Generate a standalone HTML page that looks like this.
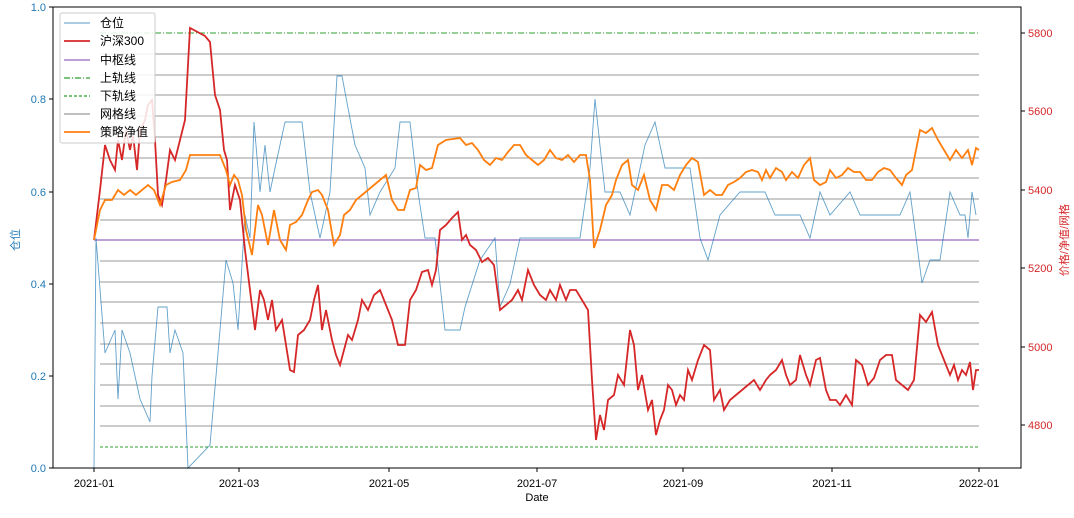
<!DOCTYPE html>
<html><head><meta charset="utf-8"><style>
html,body{margin:0;padding:0;background:#fff;}
svg text{font-family:"Liberation Sans","Noto Sans CJK SC",sans-serif;}
</style></head><body>
<svg width="1074" height="513" viewBox="0 0 1074 513" xmlns="http://www.w3.org/2000/svg">
<rect width="1074" height="513" fill="#fff"/>
<!-- grid lines -->
<g stroke="#9a9a9a" stroke-width="1">
<line x1="100" x2="979" y1="54" y2="54"/><line x1="100" x2="979" y1="75" y2="75"/><line x1="100" x2="979" y1="95" y2="95"/><line x1="100" x2="979" y1="116" y2="116"/><line x1="100" x2="979" y1="137" y2="137"/><line x1="100" x2="979" y1="158" y2="158"/><line x1="100" x2="979" y1="178" y2="178"/><line x1="100" x2="979" y1="199" y2="199"/><line x1="100" x2="979" y1="220" y2="220"/><line x1="100" x2="979" y1="261" y2="261"/><line x1="100" x2="979" y1="282" y2="282"/><line x1="100" x2="979" y1="302" y2="302"/><line x1="100" x2="979" y1="323" y2="323"/><line x1="100" x2="979" y1="344" y2="344"/><line x1="100" x2="979" y1="364" y2="364"/><line x1="100" x2="979" y1="385" y2="385"/><line x1="100" x2="979" y1="406" y2="406"/><line x1="100" x2="979" y1="426" y2="426"/>
</g>
<line x1="100" x2="979" y1="33" y2="33" stroke="#2ca02c" stroke-dasharray="6,2,1,2" stroke-width="1"/>
<line x1="100" x2="979" y1="447" y2="447" stroke="#2ca02c" stroke-dasharray="3,2" stroke-width="1"/>
<line x1="94" x2="979" y1="240" y2="240" stroke="#9467bd" stroke-width="1.3"/>
<!-- position -->
<polyline fill="none" stroke="#1f77b4" stroke-opacity="0.7" stroke-width="0.9" points="94,468 96,238 105,353 115,330 118,399 122,330 130,353 140,399 150,422 152,376 158,307 167,307 170,353 175,330 183,353 188,468 210,445 218,353 226,260 233,283 238,330 245,215 250,238 254,122 260,192 265,145 270,192 275,168 285,122 302,122 310,192 320,238 330,192 337,76 342,76 348,108 355,145 365,168 370,215 380,192 395,168 400,122 410,122 418,192 425,238 435,238 445,330 460,330 465,307 480,260 495,238 500,307 510,284 520,238 560,238 580,238 590,168 595,99 605,192 620,192 630,215 645,145 655,122 665,168 690,168 700,238 708,260 720,215 740,192 765,192 775,215 800,215 810,238 820,192 830,215 850,192 860,215 900,215 910,192 922,283 930,260 940,260 950,192 960,215 965,215 968,238 972,192 976,215"/>
<!-- HS300 -->
<polyline fill="none" stroke="#d62728" stroke-width="1.8" points="94,240 100,190 105,145 110,160 115,170 118,140 122,160 126,130 130,150 133,135 137,170 140,130 145,120 148,105 152,100 155,140 158,195 162,205 166,180 170,150 175,160 180,140 185,120 190,28 205,36 210,42 215,95 220,110 224,150 227,160 230,210 235,185 240,200 245,250 250,290 255,330 260,290 264,300 268,320 272,300 276,330 282,320 286,345 290,370 294,372 298,335 304,330 310,320 314,300 318,285 322,330 326,310 332,340 336,355 340,365 344,350 348,335 352,340 358,320 362,300 368,310 374,295 380,290 386,305 392,320 398,345 405,345 410,300 416,290 422,272 428,270 432,285 436,270 440,230 446,225 452,218 458,212 462,240 466,235 470,245 476,250 482,262 488,258 494,265 500,310 506,305 512,300 518,290 522,300 528,270 534,285 540,295 546,300 550,290 556,300 560,285 566,300 570,290 576,290 582,300 588,310 592,380 596,440 600,415 604,430 608,400 614,395 618,375 624,385 630,330 634,345 638,390 642,375 648,410 652,400 656,435 660,420 664,410 668,385 672,390 676,405 680,395 684,400 688,370 692,380 698,360 704,345 710,350 714,400 720,390 724,410 730,400 736,395 742,390 748,385 754,380 760,390 766,380 770,375 776,370 782,360 786,375 790,385 796,380 800,355 806,375 810,385 816,360 820,358 826,390 830,400 836,400 840,405 846,395 852,405 856,360 862,365 868,385 874,378 880,360 886,355 892,355 896,380 902,385 908,390 914,380 920,315 926,322 932,312 938,345 944,360 950,375 954,365 958,380 962,370 966,375 970,362 973,390 976,370 979,370"/>
<!-- strategy -->
<polyline fill="none" stroke="#ff7f0e" stroke-width="1.8" points="94,240 100,210 105,200 112,200 118,190 124,195 130,190 136,195 142,190 148,185 154,190 160,205 166,185 172,182 180,180 186,170 190,155 220,155 226,170 230,185 234,175 238,180 242,195 246,230 252,255 258,205 262,215 268,245 274,210 280,240 286,250 290,225 296,222 302,215 308,200 312,192 318,190 322,195 328,210 334,245 340,235 344,215 350,210 356,200 362,195 368,190 374,185 380,180 386,175 392,200 398,210 404,210 410,190 416,188 420,165 426,170 432,168 438,145 446,140 460,138 466,145 472,143 478,150 484,160 490,165 496,158 502,160 508,152 514,145 520,145 526,155 532,160 538,165 544,160 550,150 556,158 562,160 568,155 574,162 580,155 586,155 590,180 594,248 600,230 606,205 612,195 616,180 622,165 628,160 632,185 638,190 644,175 650,200 656,210 662,185 668,185 674,190 680,175 686,165 692,158 698,162 704,195 710,190 716,195 722,195 728,185 734,182 740,178 746,172 752,170 758,172 762,180 766,170 770,178 776,168 782,172 786,180 792,172 798,178 804,165 810,158 814,180 820,185 826,182 830,170 836,178 842,175 848,168 854,172 860,172 866,180 872,180 878,172 884,168 890,170 896,178 902,185 906,175 912,170 920,130 926,133 932,128 938,140 944,150 950,160 956,150 962,158 968,150 972,165 976,148 979,150"/>
<!-- axes frame -->
<rect x="53" y="7" width="968" height="461" fill="none" stroke="#000" stroke-width="1"/>
<!-- left ticks -->
<g stroke="#000"><line x1="49" x2="53" y1="468" y2="468"/><line x1="49" x2="53" y1="376" y2="376"/><line x1="49" x2="53" y1="284" y2="284"/><line x1="49" x2="53" y1="192" y2="192"/><line x1="49" x2="53" y1="99" y2="99"/><line x1="49" x2="53" y1="7" y2="7"/>
<line x1="1021" x2="1025" y1="33" y2="33"/><line x1="1021" x2="1025" y1="111" y2="111"/><line x1="1021" x2="1025" y1="190" y2="190"/><line x1="1021" x2="1025" y1="268" y2="268"/><line x1="1021" x2="1025" y1="347" y2="347"/><line x1="1021" x2="1025" y1="425" y2="425"/>
<line x1="94" x2="94" y1="468" y2="472"/><line x1="239" x2="239" y1="468" y2="472"/><line x1="389" x2="389" y1="468" y2="472"/><line x1="537" x2="537" y1="468" y2="472"/><line x1="683" x2="683" y1="468" y2="472"/><line x1="832" x2="832" y1="468" y2="472"/><line x1="979" x2="979" y1="468" y2="472"/></g>
<g fill="#1f77b4" font-size="11" text-anchor="end"><text x="46" y="472">0.0</text><text x="46" y="380">0.2</text><text x="46" y="288">0.4</text><text x="46" y="196">0.6</text><text x="46" y="103">0.8</text><text x="46" y="11">1.0</text></g>
<g fill="#d62728" font-size="11"><text x="1028" y="37">5800</text><text x="1028" y="115">5600</text><text x="1028" y="194">5400</text><text x="1028" y="272">5200</text><text x="1028" y="351">5000</text><text x="1028" y="429">4800</text></g>
<g fill="#000" font-size="11" text-anchor="middle"><text x="94" y="487">2021-01</text><text x="239" y="487">2021-03</text><text x="389" y="487">2021-05</text><text x="537" y="487">2021-07</text><text x="683" y="487">2021-09</text><text x="832" y="487">2021-11</text><text x="979" y="487">2022-01</text><text x="537" y="501">Date</text></g>
<text x="0" y="0" transform="translate(19,240) rotate(-90)" fill="#1f77b4" font-size="11" text-anchor="middle">仓位</text>
<text x="0" y="0" transform="translate(1068,240) rotate(-90)" fill="#d62728" font-size="11" text-anchor="middle">价格/净值/网格</text>
<!-- legend -->
<rect x="60" y="13" width="95" height="130" rx="2" fill="#fff" fill-opacity="0.85" stroke="#ccc"/>
<g stroke-width="1.3">
<line x1="64" x2="90" y1="23" y2="23" stroke="#1f77b4" stroke-opacity="0.6"/>
<line x1="64" x2="90" y1="41" y2="41" stroke="#d62728" stroke-width="1.8"/>
<line x1="64" x2="90" y1="60" y2="60" stroke="#9467bd"/>
<line x1="64" x2="90" y1="78" y2="78" stroke="#2ca02c" stroke-dasharray="6,2,1,2"/>
<line x1="64" x2="90" y1="96" y2="96" stroke="#2ca02c" stroke-dasharray="3,2"/>
<line x1="64" x2="90" y1="114" y2="114" stroke="#9a9a9a"/>
<line x1="64" x2="90" y1="132" y2="132" stroke="#ff7f0e" stroke-width="1.8"/>
</g>
<g fill="#000" font-size="12"><text x="100" y="27">仓位</text><text x="100" y="45">沪深300</text><text x="100" y="64">中枢线</text><text x="100" y="82">上轨线</text><text x="100" y="100">下轨线</text><text x="100" y="118">网格线</text><text x="100" y="136">策略净值</text></g>
</svg>
</body></html>
